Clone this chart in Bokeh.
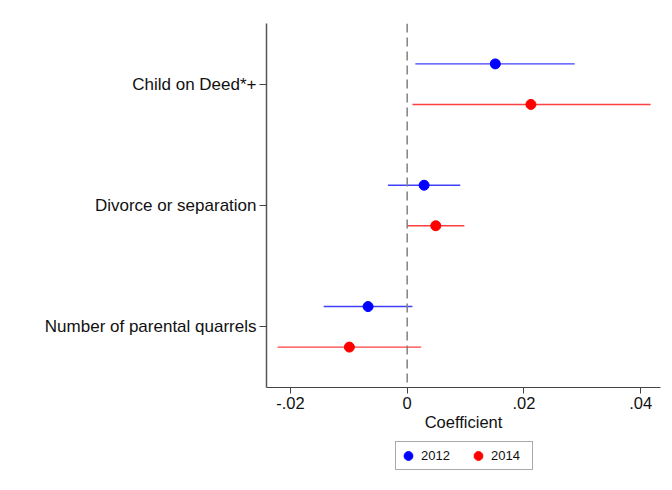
from bokeh.plotting import figure
from bokeh.layouts import column
from bokeh.models import (Span, FixedTicker, CustomJSTickFormatter, Legend, LegendItem,
                          ColumnDataSource, Range1d)
from bokeh.embed import file_html
from bokeh.resources import INLINE

# ---- data ----
categories = ["Child on Deed*+", "Divorce or separation", "Number of parental quarrels"]
coef_2012 = [0.0151, 0.0029, -0.0067]
lo_2012 = [0.0014, -0.0033, -0.0143]
hi_2012 = [0.0287, 0.0091, 0.0009]
coef_2014 = [0.0212, 0.0049, -0.0099]
lo_2014 = [0.0009, 0.0000, -0.0222]
hi_2014 = [0.0417, 0.0098, 0.0024]
x_ticks = [-0.02, 0, 0.02, 0.04]
series_labels = ["2012", "2014"]
series_colors = ["#0000ff", "#ff0000"]

FONT = "Liberation Sans"
n = len(categories)
pos = [n - i for i in range(n)]          # top category highest
off = 0.167

W = 664
p = figure(width=W, height=435, output_backend="svg", toolbar_location=None,
           x_range=Range1d(-0.0241, 0.0434), y_range=Range1d(0.5, n + 0.5),
           min_border_left=266, min_border_right=4, min_border_top=23, min_border_bottom=48)
p.outline_line_color = None
p.xgrid.visible = False
p.ygrid.visible = False
p.background_fill_color = "white"

p.add_layout(Span(location=0, dimension="height", line_color="#808080",
                  line_dash="9 5", line_width=1.5))

src12 = ColumnDataSource(dict(y=[v + off for v in pos], x=coef_2012, lo=lo_2012, hi=hi_2012))
src14 = ColumnDataSource(dict(y=[v - off for v in pos], x=coef_2014, lo=lo_2014, hi=hi_2014))

for src, col in ((src12, series_colors[0]), (src14, series_colors[1])):
    p.segment(x0="lo", x1="hi", y0="y", y1="y", source=src, line_color=col,
              line_alpha=0.75, line_width=1.4)
    p.scatter("x", "y", source=src, size=10, fill_color=col, line_color=col)

# x axis
p.xaxis.ticker = FixedTicker(ticks=x_ticks)
p.xaxis.formatter = CustomJSTickFormatter(
    code='return tick == 0 ? "0" : tick.toFixed(2).replace("0.", ".");')
p.xaxis.axis_label = "Coefficient"
p.xaxis.axis_label_text_font = FONT
p.xaxis.axis_label_text_font_style = "normal"
p.xaxis.axis_label_text_font_size = "16.5px"
p.xaxis.axis_label_text_color = "#111111"
p.xaxis.axis_label_standoff = 1
p.xaxis.major_label_text_font = FONT
p.xaxis.major_label_text_font_size = "16.5px"
p.xaxis.major_label_text_color = "#111111"
p.xaxis.major_label_standoff = 3
p.xaxis.major_tick_out = 6
p.xaxis.major_tick_in = 0
p.xaxis.minor_tick_out = 0
p.xaxis.minor_tick_in = 0
p.xaxis.axis_line_color = "#444444"
p.xaxis.major_tick_line_color = "#444444"

# y axis
p.yaxis.ticker = FixedTicker(ticks=pos)
p.yaxis.major_label_overrides = {pos[i]: categories[i] for i in range(n)}
p.yaxis.major_label_text_font = FONT
p.yaxis.major_label_text_font_size = "17px"
p.yaxis.major_label_text_color = "#111111"
p.yaxis.major_label_standoff = 3
p.yaxis.major_tick_out = 7
p.yaxis.major_tick_in = 0
p.yaxis.minor_tick_out = 0
p.yaxis.minor_tick_in = 0
p.yaxis.axis_line_color = "#555555"
p.yaxis.axis_line_width = 1.5
p.yaxis.major_tick_line_color = "#444444"

# legend strip below the plot (its frame is aligned with the main frame)
p2 = figure(width=W, height=47, output_backend="svg", toolbar_location=None,
            x_range=Range1d(0, 1), y_range=Range1d(0, 1),
            x_axis_location=None, y_axis_location=None,
            min_border_left=0, min_border_right=0, min_border_top=0, min_border_bottom=0)
p2.outline_line_color = None
p2.xgrid.visible = False
p2.ygrid.visible = False
items = []
for lab, col in zip(series_labels, series_colors):
    r = p2.scatter(x=[5], y=[5], size=10, fill_color=col, line_color=col)
    items.append(LegendItem(label=lab, renderers=[r]))

legend = Legend(items=items, orientation="horizontal", location=(129, 12))
legend.label_text_font = FONT
legend.label_text_font_size = "13px"
legend.label_text_color = "#111111"
legend.glyph_width = 22
legend.glyph_height = 25
legend.label_standoff = 2
legend.label_width = 40
legend.spacing = 6
legend.padding = 1
legend.margin = 0
legend.border_line_color = "#555555"
legend.border_line_width = 1
legend.background_fill_color = "white"
p2.add_layout(legend, "center")

layout = column(p, p2, spacing=0)
open("out.html", "w").write(file_html(layout, INLINE))
